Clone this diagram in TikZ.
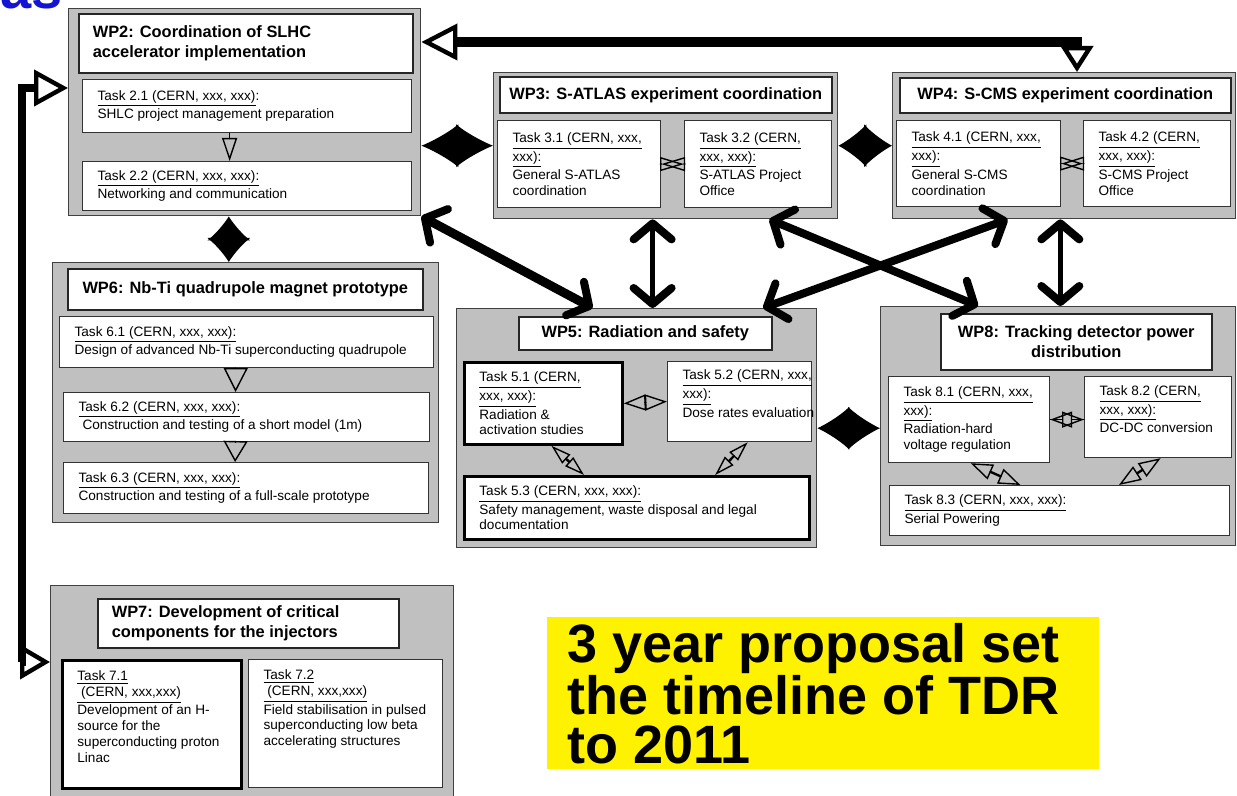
\documentclass[tikz,border=0pt]{standalone}
\usepackage{fontspec}
\setmainfont{Liberation Sans}
\usetikzlibrary{arrows.meta,calc}
\definecolor{panel}{HTML}{C0C0C0}
\definecolor{fragblue}{HTML}{1414D2}
\newlength\pxu
\setlength\pxu{0.5pt}
\newcommand{\tk}[3]{\parbox[b][#2\pxu][c]{#1\pxu}{\leftskip=15\pxu\rightskip=-40\pxu plus 1fil\relax #3}}
\newcommand{\ttl}[3]{\parbox[b][#2\pxu][c]{#1\pxu}{\centering #3}}
\newcommand{\ttll}[3]{\parbox[b][#2\pxu][c]{#1\pxu}{\leftskip=14\pxu\rightskip=0pt plus 1fil\relax #3}}

\tikzset{
  wp/.style={draw=black!75, fill=panel, line width=0.7pt, anchor=north west, inner sep=0pt},
  sz/.style 2 args={minimum width=#1*0.5pt, minimum height=#2*0.5pt},
  wptitle/.style={draw=black!85, fill=white, line width=0.8pt, anchor=north west, inner sep=0pt, font=\fontsize{8.2}{10}\selectfont\bfseries},
  task/.style={draw=black!80, fill=white, line width=0.6pt, anchor=north west, inner sep=0pt, font=\fontsize{6.8}{7.9}\selectfont},
  keytask/.style={task, draw=black, line width=1.4pt},
  note/.style={fill=yellow, anchor=north west, inner sep=0pt, font=\fontsize{27}{24.5}\selectfont\bfseries},
  block/.style={line width=0.6pt, arrows={Latex[length=#1,width=21.5pt]-Latex[length=#1,width=21.5pt]}},
  barb/.style={line width=#1, arrows={Straight Barb[length=8pt,width=19pt,line width=4pt,round]-Straight Barb[length=8pt,width=19pt,line width=4pt,round]}},
  joint/.style={line width=0.7pt, line cap=round},
}

\begin{document}
\begin{tikzpicture}[x=0.5pt,y=-0.5pt]
\useasboundingbox (0,0) rectangle (1237,796);
\clip (0,0) rectangle (1237,796);

\node[anchor=base west, inner sep=0pt, text=fragblue, font=\fontsize{28}{28}\selectfont\bfseries] (frag) at (0,9) {as};

\node[wp, sz={352}{207}] (wp2) at (68,8) {};
\node[wp, sz={344}{146}] (wp3) at (493,72) {};
\node[wp, sz={343}{146}] (wp4) at (892,72) {};
\node[wp, sz={386}{260}] (wp6) at (52,262) {};
\node[wp, sz={360}{239}] (wp5) at (456,308) {};
\node[wp, sz={355}{239}] (wp8) at (880,306) {};
\node[wp, sz={403}{230}] (wp7) at (50,585) {};

\node[wptitle] (wp2t) at (78,13) {\ttll{334}{59}{WP2: Coordination of SLHC\\accelerator implementation}};
\node[task] (t21) at (82,79) {\tk{329}{53}{\underline{Task 2.1 (CERN, xxx, xxx)}:\\SHLC project management preparation}};
\node[task] (t22) at (82,161) {\tk{329}{49}{\underline{Task 2.2 (CERN, xxx, xxx):}\\Networking and communication}};

\node[wptitle] (wp3t) at (499,76) {\ttl{332}{36}{WP3: S-ATLAS experiment coordination}};
\node[task] (t31) at (497,120) {\tk{163}{87}{\underline{Task 3.1 (CERN, xxx,}\\\underline{xxx):}\\General S-ATLAS\\coordination}};
\node[task] (t32) at (684,120) {\tk{147}{87}{\underline{Task 3.2 (CERN,}\\\underline{xxx, xxx):}\\S-ATLAS Project\\Office}};

\node[wptitle] (wp4t) at (899,77) {\ttl{331}{35}{WP4: S-CMS experiment coordination}};
\node[task] (t41) at (896,120) {\tk{164}{86}{\underline{Task 4.1 (CERN, xxx,}\\\underline{xxx):}\\General S-CMS\\coordination}};
\node[task] (t42) at (1083,120) {\tk{147}{86}{\underline{Task 4.2 (CERN,}\\\underline{xxx, xxx):}\\S-CMS Project\\Office}};

\node[wptitle] (wp6t) at (67,268) {\ttl{355}{41}{WP6: Nb-Ti quadrupole magnet prototype}};
\node[task] (t61) at (59,316) {\tk{374}{51}{\underline{Task 6.1 (CERN, xxx, xxx):}\\Design of advanced Nb-Ti superconducting quadrupole}};
\node[task] (t62) at (63,392) {\tk{366}{49}{\underline{Task 6.2 (CERN, xxx, xxx):}\\\hspace*{2pt}Construction and testing of a short model (1m)}};
\node[task] (t63) at (63,462) {\tk{365}{51}{\underline{Task 6.3 (CERN, xxx, xxx):}\\Construction and testing of a full-scale prototype}};

\node[wptitle] (wp5t) at (518,316) {\ttl{253}{33}{WP5: Radiation and safety}};
\node[keytask] (t51) at (463,361) {\tk{158}{82}{\underline{Task 5.1 (CERN,}\\\underline{xxx, xxx):}\\Radiation \&\\activation studies}};
\node[task] (t52) at (667,361) {\tk{144}{80}{\underline{Task 5.2 (CERN, xxx,}\\\underline{xxx):}\\Dose rates evaluation\\\mbox{}}};
\node[keytask] (t53) at (463,475) {\tk{345}{63}{\underline{Task 5.3 (CERN, xxx, xxx):}\\Safety management, waste disposal and legal\\documentation}};

\node[wptitle] (wp8t) at (940,313) {\ttl{271}{56}{WP8: Tracking detector power\\distribution}};
\node[task] (t81) at (888,376) {\tk{161}{86}{\underline{Task 8.1 (CERN, xxx,}\\\underline{xxx):}\\Radiation-hard\\voltage regulation}};
\node[task] (t82) at (1084,376) {\tk{147}{81}{\underline{Task 8.2 (CERN,}\\\underline{xxx, xxx):}\\DC-DC conversion\\\mbox{}}};
\node[task] (t83) at (889,485) {\tk{340}{50}{\underline{Task 8.3 (CERN, xxx, xxx):}\\Serial Powering}};

\node[wptitle] (wp7t) at (97,598) {\ttll{301}{49}{WP7: Development of critical\\components for the injectors}};
\node[keytask] (t71) at (61,659) {\tk{179}{128}{\underline{Task 7.1}\\\underline{\ (CERN, xxx,xxx)}\\Development of an H-\\source for the\\superconducting proton\\Linac\\\mbox{}}};
\node[task] (t72) at (248,659) {\tk{194}{128}{\underline{Task 7.2}\\\underline{\ (CERN, xxx,xxx)}\\Field stabilisation in pulsed\\superconducting low beta\\accelerating structures\\\mbox{}\\\mbox{}}};

\node[note] (note) at (547,617) {\parbox[b][152\pxu][c]{552\pxu}{\leftskip=20\pxu\relax 3 year proposal set\\the timeline of TDR\\to 2011}};

\coordinate (top) at (1077,42);
\coordinate (lft) at (22,88);
\coordinate (lfb) at (22,662);
\draw[line width=5pt, arrows={Triangle[open,length=18pt,width=18pt,line width=2.2pt]-Triangle[open,length=13pt,width=16pt,line width=2.2pt]}] (wp2.east |- top) -- (top) -- (top |- wp4.north);
\draw[line width=4pt, arrows={Triangle[open,length=17pt,width=18pt,line width=2.2pt]-Triangle[open,length=15pt,width=17pt,line width=2.2pt]}] (wp2.west |- lft) -- (lft) -- (lfb) -- (wp7.west |- lfb);

\coordinate (x26) at ($(wp2.south west)!0.455!(wp2.south east)$);
\draw[block=18.5pt] (wp2.east |- wp3.west) -- (wp3.west);
\draw[block=14pt] (wp3.east) -- (wp4.west);
\draw[block=16pt] (wp5.east) -- (wp8.west |- wp5.east);
\draw[block=12pt] (x26) -- (x26 |- wp6.north);

\coordinate (a25) at ($(wp5.north west)!0.378!(wp5.north east)$);
\coordinate (a35) at ($(wp5.north west)!0.544!(wp5.north east)$);
\coordinate (s3) at ($(wp3.south west)!0.8!(wp3.south east)$);
\coordinate (n8) at ($(wp8.north west)!0.275!(wp8.north east)$);
\coordinate (s4) at ($(wp4.south west)!0.336!(wp4.south east)$);
\coordinate (n5) at ($(wp5.north west)!0.85!(wp5.north east)$);
\coordinate (a48) at ($(wp8.north west)!0.506!(wp8.north east)$);
\draw[barb=4.5pt] (wp2.south east) -- (a25);
\draw[barb=2.5pt] (a35 |- wp3.south) -- (a35);
\draw[barb=4pt] (s3) -- (n8);
\draw[barb=4pt] (s4) -- (n5);
\draw[barb=2.5pt] (a48 |- wp4.south) -- (a48);

\draw[joint, -{Triangle[open,length=11.5pt,width=7.5pt]}] ($(t21.south west)!0.447!(t21.south east)$) -- ($(t22.north west)!0.447!(t22.north east)$);
\draw[joint, -{Triangle[open,length=12pt,width=12pt]}] ($(t61.south west)!0.471!(t61.south east)$) -- ($(t62.north west)!0.47!(t62.north east)$);
\draw[joint, -{Triangle[open,length=10.5pt,width=12pt]}] ($(t62.south west)!0.47!(t62.south east)$) -- ($(t63.north west)!0.47!(t63.north east)$);
\draw[joint, -{Triangle[open,length=12pt,width=7pt]}] (t31.east) -- (t32.west);
\draw[joint, -{Triangle[open,length=12pt,width=7pt]}] (t32.west) -- (t31.east);
\draw[joint, -{Triangle[open,length=11.5pt,width=7pt]}] (t41.east) -- (t42.west);
\draw[joint, -{Triangle[open,length=11.5pt,width=7pt]}] (t42.west) -- (t41.east);
\draw[joint, line width=1.2pt, arrows={Triangle[open,length=11pt,width=8pt,line width=0.7pt]-Triangle[open,length=11pt,width=8pt,line width=0.7pt]}] (t51.east) -- (t52.west);
\draw[joint, -{Triangle[open,length=11pt,width=8pt]}] (t81.east) -- (t82.west |- t81.east);
\draw[joint, -{Triangle[open,length=11pt,width=8pt]}] (t82.west |- t81.east) -- (t81.east);
\draw[joint, line width=1.2pt, arrows={Triangle[open,length=10pt,width=6pt,line width=0.7pt]-Triangle[open,length=10pt,width=6pt,line width=0.7pt]}] ($(t51.south west)!0.55!(t51.south east)$) -- ($(t53.north west)!0.348!(t53.north east)$);
\draw[joint, line width=1.2pt, arrows={Triangle[open,length=10pt,width=6pt,line width=0.7pt]-Triangle[open,length=10pt,width=6pt,line width=0.7pt]}] ($(t52.south west)!0.556!(t52.south east)$) -- ($(t53.north west)!0.725!(t53.north east)$);
\draw[joint, line width=1.2pt, arrows={Triangle[open,length=11pt,width=8pt,line width=0.7pt]-Triangle[open,length=11pt,width=8pt,line width=0.7pt]}] ($(t81.south west)!0.51!(t81.south east)$) -- ($(t83.north west)!0.385!(t83.north east)$);
\draw[joint, line width=1.2pt, arrows={Triangle[open,length=11pt,width=8pt,line width=0.7pt]-Triangle[open,length=11pt,width=8pt,line width=0.7pt]}] ($(t82.south west)!0.517!(t82.south east)$) -- ($(t83.north west)!0.674!(t83.north east)$);
\end{tikzpicture}
\end{document}
